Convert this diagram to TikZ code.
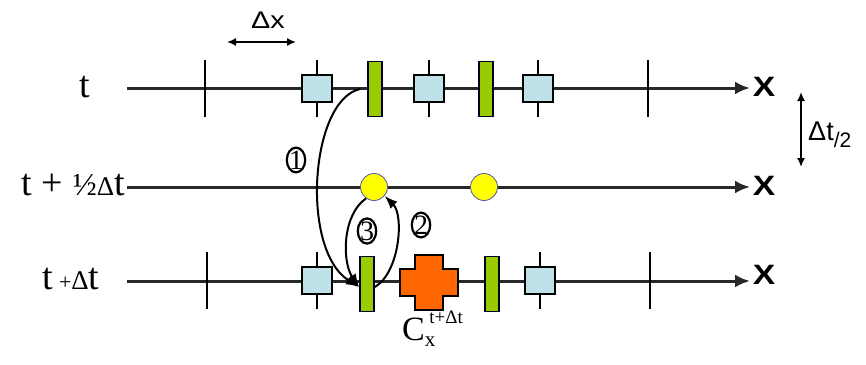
\documentclass[tikz,border=0pt]{standalone}
\usepackage{fontspec}
\setmainfont{Liberation Serif}
\setsansfont{Liberation Sans}
\usetikzlibrary{arrows.meta,shapes.geometric}
\definecolor{cellblue}{RGB}{190,226,232}
\definecolor{fluxgreen}{RGB}{153,204,0}
\definecolor{midyellow}{RGB}{255,255,0}
\definecolor{crossorange}{RGB}{255,102,0}
\definecolor{axisgray}{RGB}{40,40,40}

\begin{document}
\begin{tikzpicture}[x=1pt,y=-1pt,
  axis/.style={line width=3pt,axisgray,-{Latex[length=15pt,width=13pt]}},
  tick/.style={line width=2pt},
  cell/.style={draw,line width=1.8pt,fill=cellblue,minimum width=30pt,minimum height=27pt,inner sep=0pt},
  flux/.style={draw=black!85!blue,line width=1.8pt,fill=fluxgreen,minimum width=14pt,minimum height=55pt,inner sep=0pt},
  half/.style={circle,draw=blue!35!gray,line width=0.8pt,fill=midyellow,minimum size=27pt,inner sep=0pt},
  stepno/.style={ellipse,draw,line width=2.2pt,inner sep=-0.5pt,font=\fontsize{28}{28}\selectfont},
  flow/.style={line width=2pt,-{Latex[length=13pt,width=10pt]}},
  xlab/.style={font=\sffamily\bfseries\fontsize{28}{28}\selectfont,xscale=1.2}]
  \useasboundingbox (0,0) rectangle (866,364);
  % time levels
  \coordinate (top0) at (127,88);  \coordinate (top1) at (750,88);
  \coordinate (mid0) at (127,187); \coordinate (mid1) at (750,187);
  \coordinate (bot0) at (127,281); \coordinate (bot1) at (750,281);
  \draw[axis] (top0) -- (top1);
  \draw[axis] (mid0) -- (mid1);
  \draw[axis] (bot0) -- (bot1);
  \node[xlab] (xtop) at (764,87) {X};
  \node[xlab] (xmid) at (764,186) {X};
  \node[xlab] (xbot) at (764,275) {X};
  \node[anchor=base] (lt) at (85,97) {\fontsize{38}{40}\selectfont t};
  \node[anchor=base east,inner sep=0pt] (lhalf) at (125,195)
    {\fontsize{38}{40}\selectfont t + {\fontsize{32}{32}\selectfont ½}{\fontsize{27}{27}\selectfont Δ}t};
  \node[anchor=base west,inner sep=0pt] (lfull) at (42,289)
    {\fontsize{38}{40}\selectfont t\,{\fontsize{22}{22}\selectfont +}{\fontsize{27}{27}\selectfont Δ}t};
  % grid ticks
  \foreach \x in {205,317,429,538,648} \draw[tick] (\x,60) -- (\x,117);
  \foreach \x in {207,317,540,650} \draw[tick] (\x,252) -- (\x,309);
  % top level
  \node[cell] (ct1) at (317,88.5) {};
  \node[flux] (ft1) at (375,89) {};
  \node[cell] (ct2) at (429,88.5) {};
  \node[flux] (ft2) at (486,89) {};
  \node[cell] (ct3) at (538,88.5) {};
  % half level
  \node[half] (h1) at (374,187) {};
  \node[half] (h2) at (484,187) {};
  % new level
  \node[cell] (cb1) at (317,280.5) {};
  \node[flux] (fb1) at (367,284) {};
  \node[flux] (fb2) at (492,284) {};
  \node[cell] (cb3) at (540,280.5) {};
  \coordinate (cross) at (429,282.5);
  \filldraw[fill=crossorange,line width=1.8pt]
    (415,255) -- (443,255) -- (443,269) -- (458,269) -- (458,296) -- (443,296)
    -- (443,310) -- (415,310) -- (415,296) -- (400,296) -- (400,269) -- (415,269) -- cycle;
  \node (clab) at (cross) [yshift=-58pt,anchor=base west,xshift=-27pt,inner sep=0pt]
    {\fontsize{34}{36}\selectfont C\raisebox{-6pt}{\fontsize{21}{21}\selectfont x}\hspace{-6pt}\raisebox{17pt}{\fontsize{19}{19}\selectfont t+Δt}};
  % steps
  \draw[flow] ([xshift=-7pt]ft1.west) .. controls (310,100) and (300,250) .. ([yshift=-3pt]fb1.west);
  \draw[flow] (h1.235) .. controls (342,215) and (342,262) .. ([yshift=-3pt]fb1.west);
  \draw[flow] ([yshift=-3pt]fb1.east) .. controls (400,272) and (404,215) .. (h1.-40);
  \node[stepno] (s1) at (296,160) {1};
  \node[stepno] (s2) at (421,225) {2};
  \node[stepno] (s3) at (367,231) {3};
  % spacings
  \coordinate (dx0) at (227,42); \coordinate (dx1) at (296,42);
  \draw[line width=1.6pt,{Latex[length=9pt,width=8pt]}-{Latex[length=9pt,width=8pt]}] (dx0) -- (dx1);
  \node[font=\sffamily\fontsize{24}{24}\selectfont,xscale=1.2] (dxlab) at (268,20) {Δx};
  \coordinate (dt0) at (801,92); \coordinate (dt1) at (801,167);
  \draw[line width=1.6pt,{Latex[length=9pt,width=8pt]}-{Latex[length=9pt,width=8pt]}] (dt0) -- (dt1);
  \node[anchor=base west,inner sep=0pt] (dtlab) at (808,140)
    {\sffamily\fontsize{27}{27}\selectfont Δt\raisebox{-7pt}{\fontsize{21}{21}\selectfont /2}};
\end{tikzpicture}
\end{document}
